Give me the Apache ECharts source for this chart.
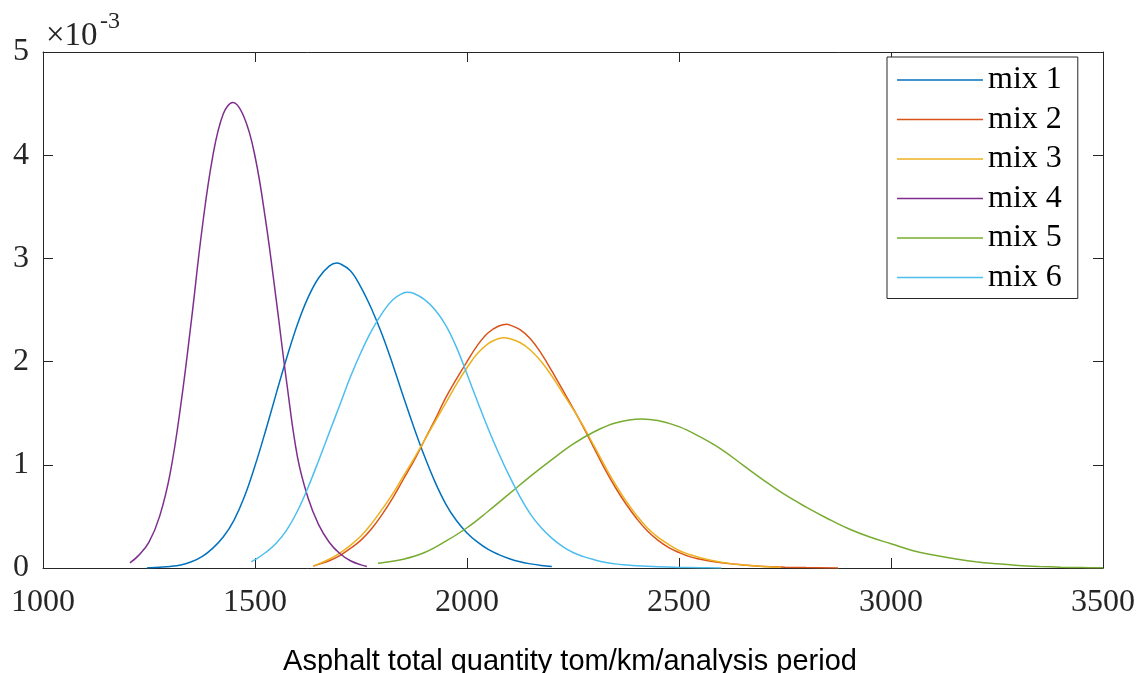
<!DOCTYPE html>
<html>
<head>
<meta charset="utf-8">
<script src="https://cdn.jsdelivr.net/npm/echarts@6/dist/echarts.min.js"></script>
<style>
    html, body { margin: 0; padding: 0; background: #fff; }
    #chart { width: 1147px; height: 673px; }
</style>
</head>
<body>
<div id="chart"></div>
<script>
// density values, in units of 1e-3
const mix1X = [1245, 1250, 1275, 1300, 1325, 1350, 1375, 1400, 1425, 1450, 1475, 1500, 1525, 1550, 1575, 1600, 1625, 1650, 1675, 1693,
    1700, 1725, 1750, 1775, 1800, 1825, 1850, 1875, 1900, 1925, 1950, 1975, 2000, 2025, 2050, 2075, 2100, 2125, 2150, 2175, 2200];
const mix1Y = [0.0, 0.003, 0.008, 0.015, 0.03, 0.06, 0.11, 0.19, 0.30, 0.46, 0.69, 0.99, 1.33, 1.69, 2.04, 2.36, 2.62, 2.81, 2.925, 2.955,
    2.95, 2.88, 2.72, 2.51, 2.26, 1.97, 1.66, 1.36, 1.08, 0.83, 0.62, 0.46, 0.34, 0.25, 0.18, 0.13, 0.09, 0.06, 0.04, 0.025, 0.015];

const mix2X = [1638, 1650, 1675, 1700, 1725, 1750, 1775, 1800, 1825, 1850, 1875, 1900, 1925, 1950, 1975, 2000, 2025, 2050, 2075, 2094,
    2100, 2125, 2150, 2175, 2200, 2225, 2250, 2275, 2300, 2325, 2350, 2375, 2400, 2425, 2450, 2475, 2500, 2525, 2550, 2575,
    2600, 2625, 2650, 2700, 2750, 2800, 2875];
const mix2Y = [0.02, 0.035, 0.07, 0.12, 0.19, 0.27, 0.38, 0.52, 0.68, 0.86, 1.04, 1.24, 1.44, 1.65, 1.83, 2.00, 2.16, 2.28, 2.345, 2.362,
    2.356, 2.31, 2.22, 2.08, 1.91, 1.73, 1.55, 1.36, 1.16, 0.96, 0.78, 0.62, 0.48, 0.36, 0.27, 0.20, 0.15, 0.11, 0.085, 0.065,
    0.05, 0.04, 0.03, 0.015, 0.008, 0.004, 0.001];

const mix3X = [1638, 1650, 1675, 1700, 1725, 1750, 1775, 1800, 1825, 1850, 1875, 1900, 1925, 1950, 1975, 2000, 2025, 2050, 2075, 2087,
    2100, 2125, 2150, 2175, 2200, 2225, 2250, 2275, 2300, 2325, 2350, 2375, 2400, 2425, 2450, 2475, 2500, 2525, 2550, 2575,
    2600, 2625, 2650, 2700, 2740];
const mix3Y = [0.02, 0.04, 0.085, 0.145, 0.22, 0.31, 0.43, 0.57, 0.72, 0.89, 1.06, 1.24, 1.42, 1.60, 1.78, 1.94, 2.08, 2.175, 2.224, 2.232,
    2.224, 2.185, 2.11, 2.00, 1.86, 1.70, 1.54, 1.37, 1.18, 0.99, 0.81, 0.65, 0.51, 0.39, 0.30, 0.23, 0.17, 0.13, 0.10, 0.075,
    0.055, 0.04, 0.03, 0.015, 0.008];

const mix4X = [1205, 1225, 1250, 1275, 1300, 1325, 1350, 1375, 1400, 1425, 1448, 1475, 1500, 1525, 1550, 1575, 1600, 1625, 1650, 1675,
    1700, 1725, 1750, 1764];
const mix4Y = [0.05, 0.12, 0.25, 0.50, 0.92, 1.58, 2.40, 3.28, 3.98, 4.40, 4.51, 4.36, 3.99, 3.37, 2.60, 1.79, 1.08, 0.68, 0.42, 0.25,
    0.14, 0.07, 0.03, 0.015];

const mix5X = [1790, 1800, 1850, 1900, 1950, 2000, 2050, 2100, 2150, 2200, 2250, 2300, 2350, 2410, 2450, 2500, 2550, 2600, 2650, 2700,
    2750, 2800, 2850, 2900, 2950, 3000, 3050, 3100, 3150, 3200, 3250, 3300, 3350, 3400, 3450, 3500];
const mix5Y = [0.045, 0.05, 0.085, 0.15, 0.26, 0.39, 0.55, 0.72, 0.89, 1.05, 1.20, 1.32, 1.405, 1.445, 1.43, 1.37, 1.27, 1.15, 1.00, 0.85,
    0.71, 0.59, 0.48, 0.38, 0.30, 0.235, 0.17, 0.125, 0.09, 0.06, 0.04, 0.025, 0.015, 0.008, 0.004, 0.002];

const mix6X = [1491, 1500, 1525, 1550, 1575, 1600, 1625, 1650, 1675, 1700, 1725, 1750, 1775, 1800, 1825, 1850, 1859, 1875, 1900, 1925,
    1950, 1975, 2000, 2025, 2050, 2075, 2100, 2125, 2150, 2175, 2200, 2225, 2250, 2275, 2300, 2325, 2350, 2375, 2400, 2450,
    2500, 2550, 2600];
const mix6Y = [0.06, 0.08, 0.15, 0.24, 0.37, 0.55, 0.78, 1.04, 1.31, 1.58, 1.85, 2.09, 2.30, 2.47, 2.60, 2.665, 2.672, 2.66, 2.60, 2.50,
    2.35, 2.14, 1.88, 1.61, 1.35, 1.11, 0.89, 0.69, 0.52, 0.39, 0.29, 0.21, 0.15, 0.11, 0.08, 0.055, 0.04, 0.03, 0.022, 0.012,
    0.006, 0.003, 0.001];

const seriesNames = ['mix 1', 'mix 2', 'mix 3', 'mix 4', 'mix 5', 'mix 6'];
const seriesX = [mix1X, mix2X, mix3X, mix4X, mix5X, mix6X];
const seriesY = [mix1Y, mix2Y, mix3Y, mix4Y, mix5Y, mix6Y];
const colors = ['#0072BD', '#D95319', '#EDB120', '#7E2F8E', '#77AC30', '#4DBEEE'];

const xMin = 1000, xMax = 3500, xStep = 500;
const yMin = 0, yMax = 5, yStep = 1;

const axisColor = '#262626';
const serif = '"Liberation Serif", "DejaVu Serif", serif';

const chart = echarts.init(document.getElementById('chart'));

function axisOf(pos, labels, min, max, step, margin) {
    return {
        type: 'value', position: pos, min: min, max: max, interval: step,
        axisLine: { show: true, onZero: false, lineStyle: { color: axisColor, width: 1 } },
        axisTick: { show: true, inside: true, length: 10, lineStyle: { color: axisColor } },
        axisLabel: {
            show: labels, color: axisColor, fontFamily: serif, fontSize: 32, margin: margin,
            formatter: v => String(v)
        },
        splitLine: { show: false }
    };
}

const series = seriesNames.map((name, i) => ({
    name: name,
    type: 'line',
    symbol: 'none',
    smooth: 0.4,
    data: seriesX[i].map((x, j) => [x, seriesY[i][j]]),
    lineStyle: { color: colors[i], width: 1.5 },
    itemStyle: { color: colors[i] }
}));

const option = {
    backgroundColor: '#fff',
    animation: false,
    grid: { left: 43, right: 44, top: 52, bottom: 105, containLabel: false, outerBoundsMode: 'none' },
    xAxis: [axisOf('bottom', true, xMin, xMax, xStep, 19), axisOf('top', false, xMin, xMax, xStep, 8)],
    yAxis: [axisOf('left', true, yMin, yMax, yStep, 14), axisOf('right', false, yMin, yMax, yStep, 8)],
    legend: {
        orient: 'vertical',
        left: 887, top: 57,
        icon: 'rect',
        itemWidth: 86, itemHeight: 1.5, itemGap: 7.5,
        padding: [7, 16, 5, 10],
        borderColor: axisColor, borderWidth: 1,
        backgroundColor: '#fff',
        textStyle: { fontFamily: serif, fontSize: 32, color: '#000', lineHeight: 32 },
        data: seriesNames
    },
    graphic: [
        {
            type: 'text',
            style: { x: 46, y: 53, text: '×10', font: '33px ' + serif, fill: axisColor, verticalAlign: 'bottom' }
        },
        {
            type: 'text',
            style: { x: 100, y: 34, text: '-3', font: '24px ' + serif, fill: axisColor, verticalAlign: 'bottom' }
        },
        {
            type: 'text',
            style: {
                x: 570, y: 676, text: 'Asphalt total quantity tom/km/analysis period',
                font: '29px "Liberation Sans", Arial, sans-serif', fill: '#000',
                align: 'center', verticalAlign: 'bottom'
            }
        }
    ],
    series: series
};
chart.setOption(option);
</script>
</body>
</html>
